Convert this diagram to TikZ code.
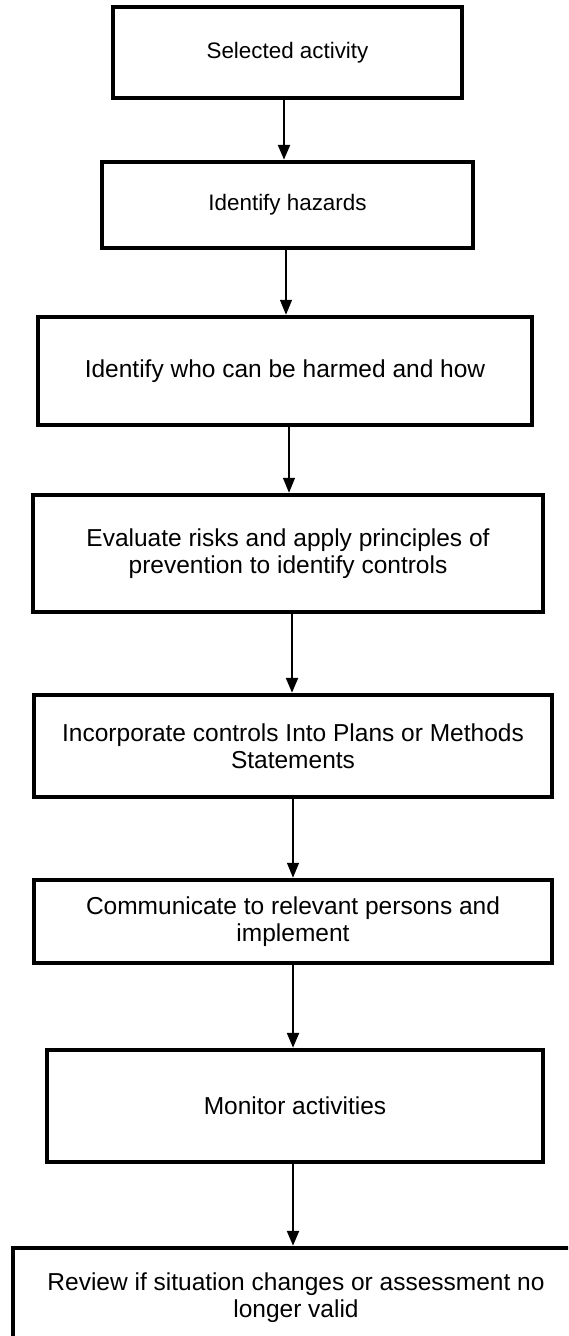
\documentclass[tikz,border=0pt]{standalone}
\usepackage{fontspec}
\setmainfont{Liberation Sans}
\usetikzlibrary{arrows.meta}
\begin{document}
\begin{tikzpicture}[x=1pt,y=-1pt,
  stepbox/.style={draw=black, line width=4.5pt, fill=white, align=center,
    inner sep=0pt, font=\fontsize{24.5}{26.5}\selectfont},
  smalltext/.style={font=\fontsize{22.4}{26}\selectfont},
  plaintext/.style={align=center, inner sep=0pt, font=\fontsize{24.5}{27}\selectfont},
  boldflow/.style={line width=2.4pt, -{Triangle[width=12pt,length=15pt]}},
  lightflow/.style={line width=1.3pt, -{Triangle[width=12pt,length=15pt]}},
]
\useasboundingbox (0,0) rectangle (568,1336);
\fill[white] (0,0) rectangle (568,1336);
\clip (0,0) rectangle (568,1336);

% process steps
\node[stepbox, smalltext, minimum width=349pt, minimum height=91pt] (b1) at (287.5,52.5) {Selected activity};
\node[stepbox, smalltext, minimum width=371pt, minimum height=86pt] (b2) at (287.5,205) {Identify hazards};
\node[stepbox, minimum width=494pt, minimum height=108pt] (b3) at (285,371) {Identify who can be harmed and how};
\node[stepbox, minimum width=510pt, minimum height=117pt] (b4) at (288,553.5) {Evaluate risks and apply principles of\\prevention to identify controls};
\node[stepbox, minimum width=518pt, minimum height=102pt] (b5) at (293,746) {Incorporate controls Into Plans or Methods\\Statements};
\node[stepbox, minimum width=518pt, minimum height=83pt] (b6) at (293,921.5) {Communicate to relevant persons and\\implement};
\node[stepbox, minimum width=496pt, minimum height=112pt] (b7) at (295,1106) {Monitor activities};
\node[stepbox, minimum width=620pt, minimum height=200pt] (b8) at (323,1348) {};
\node[plaintext] (t8) at (296,1298) {Review if situation changes or assessment no\\longer valid};

% connectors
\draw[boldflow]  ([xshift=-3.5pt]b1.south) -- ([xshift=-3.5pt]b2.north);
\draw[lightflow] ([xshift=-1.5pt]b2.south) -- ([xshift=1pt]b3.north);
\draw[lightflow] ([xshift=4pt]b3.south) -- ([xshift=1pt]b4.north);
\draw[boldflow]  ([xshift=4pt]b4.south) -- ([xshift=-1pt]b5.north);
\draw[lightflow] (b5.south) -- (b6.north);
\draw[boldflow]  (b6.south) -- ([xshift=-2pt]b7.north);
\draw[boldflow]  ([xshift=-2pt]b7.south) -- ([xshift=-30pt]b8.north);
\end{tikzpicture}
\end{document}
